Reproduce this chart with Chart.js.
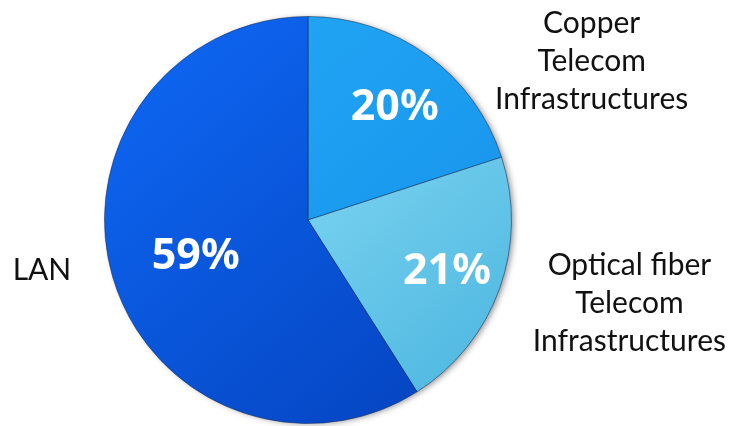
<!DOCTYPE html>
<html lang="en">
<head>
    <meta charset="UTF-8">
    <title>Network Infrastructure Share</title>
    <script src="https://cdn.jsdelivr.net/npm/chart.js"></script>
    <style>
        html, body {
            margin: 0;
            padding: 0;
            background: #ffffff;
        }
        #share-chart {
            display: block;
        }
    </style>
</head>
<body>
    <canvas id="share-chart" width="734" height="426"></canvas>

    <script>
        // Share of each infrastructure segment (percent)
        const categories = ['Copper\nTelecom\nInfrastructures', 'Optical fiber\nTelecom\nInfrastructures', 'LAN'];
        const shares = [20, 21, 59];

        // Light/dark colours for each slice's shading
        const sliceColors = [
            ['#26aaf8', '#1390e8'],
            ['#a0eafc', '#4cb6e0'],
            ['#0f69f6', '#0443bf']
        ];

        function sliceGradient(context) {
            const chart = context.chart;
            const area = chart.chartArea;
            if (!area) return sliceColors[context.dataIndex][0];
            const pair = sliceColors[context.dataIndex];
            const g = chart.ctx.createLinearGradient(area.left, area.top, area.right * 0.9, area.bottom);
            g.addColorStop(0, pair[0]);
            g.addColorStop(1, pair[1]);
            return g;
        }

        // Soft drop shadow behind the whole pie
        const pieShadow = {
            id: 'pieShadow',
            beforeDatasetsDraw(chart) {
                const arc = chart.getDatasetMeta(0).data[0];
                if (!arc) return;
                const { x, y, outerRadius } = arc.getProps(['x', 'y', 'outerRadius'], true);
                const ctx = chart.ctx;
                ctx.save();
                ctx.shadowColor = 'rgba(0, 0, 0, 0.45)';
                ctx.shadowBlur = 6;
                ctx.shadowOffsetX = 3;
                ctx.shadowOffsetY = 1;
                ctx.fillStyle = '#2a6fc0';
                ctx.beginPath();
                ctx.arc(x, y, outerRadius - 1, 0, Math.PI * 2);
                ctx.fill();
                ctx.restore();
            }
        };

        // Draws the percentages inside the slices and the category names outside
        const sliceLabels = {
            id: 'sliceLabels',
            afterDatasetsDraw(chart, args, opts) {
                const ctx = chart.ctx;
                const meta = chart.getDatasetMeta(0);
                meta.data.forEach((arc, i) => {
                    const { x, y, startAngle, endAngle, outerRadius } = arc.getProps(['x', 'y', 'startAngle', 'endAngle', 'outerRadius'], true);
                    const mid = (startAngle + endAngle) / 2;
                    const f = opts.innerFactor[i];

                    ctx.save();
                    ctx.fillStyle = '#ffffff';
                    ctx.font = 'bold 43px "Noto Sans", sans-serif';
                    ctx.textAlign = 'center';
                    ctx.textBaseline = 'middle';
                    ctx.fillText(shares[i] + '%', x + Math.cos(mid) * outerRadius * f + 3, y + Math.sin(mid) * outerRadius * f + 3);

                    // outer name, anchored by angle from twelve o'clock
                    const a = (opts.outerAngle[i] - 90) * Math.PI / 180;
                    const d = outerRadius * opts.outerFactor[i];
                    const cx = x + Math.cos(a) * d;
                    const cy = y + Math.sin(a) * d;
                    const lines = categories[i].split('\n');
                    const lh = 38;
                    ctx.fillStyle = '#111111';
                    ctx.font = '30px Lato, sans-serif';
                    lines.forEach((line, k) => {
                        ctx.fillText(line, cx, cy + (k - (lines.length - 1) / 2) * lh + 1);
                    });
                    ctx.restore();
                });
            }
        };

        const ctx = document.getElementById('share-chart').getContext('2d');
        const shareChart = new Chart(ctx, {
            type: 'pie',
            data: {
                labels: categories,
                datasets: [{
                    data: shares,
                    backgroundColor: sliceGradient,
                    borderColor: 'rgba(20, 45, 90, 0.55)',
                    borderWidth: 1
                }]
            },
            options: {
                responsive: false,
                animation: false,
                layout: {
                    padding: { left: 104, right: 222, top: 16, bottom: 2 }
                },
                plugins: {
                    legend: { display: false },
                    tooltip: { enabled: false },
                    sliceLabels: {
                        innerFactor: [0.70, 0.71, 0.59],
                        outerAngle: [60.6, 104.3, 259.4],
                        outerFactor: [1.60, 1.63, 1.33]
                    }
                }
            },
            plugins: [pieShadow, sliceLabels]
        });
    </script>
</body>
</html>
